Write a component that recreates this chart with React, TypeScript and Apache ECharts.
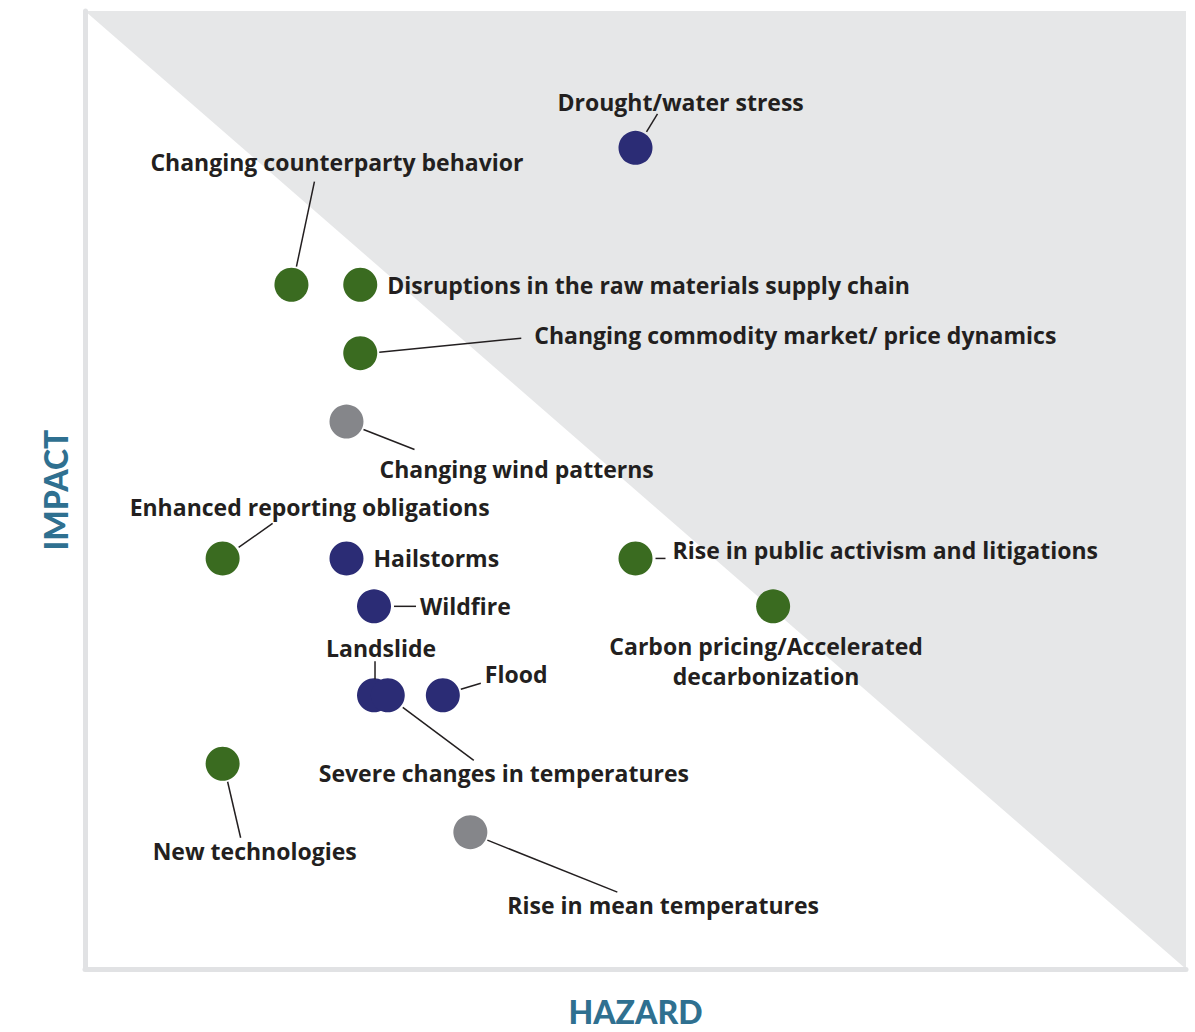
import React, { useEffect, useRef } from "react";
import * as echarts from "echarts";

// ---- data ----
const riskNames = [
  "Drought/water stress",
  "Changing counterparty behavior",
  "Disruptions in the raw materials supply chain",
  "Changing commodity market/ price dynamics",
  "Changing wind patterns",
  "Enhanced reporting obligations",
  "Hailstorms",
  "Rise in public activism and litigations",
  "Wildfire",
  "Carbon pricing/Accelerated\ndecarbonization",
  "Landslide",
  "Severe changes in temperatures",
  "Flood",
  "New technologies",
  "Rise in mean temperatures",
];
const hazard = [8, 3, 4, 4, 3.8, 2, 3.8, 8, 4.2, 10, 4.2, 4.4, 5.2, 2, 5.6];
const impact = [12, 10, 10, 9, 8, 6, 6, 6, 5.3, 5.3, 4, 4, 4, 3, 2];
const riskType = [
  "acute", "transition", "transition", "transition", "chronic", "transition", "acute",
  "transition", "acute", "transition", "acute", "acute", "acute", "transition", "chronic",
];
const hazardRange = [0, 16];
const impactRange = [0, 14];

// ---- styling / annotation layout ----
const typeColor: Record<string, string> = {
  acute: "#2b2c75",
  transition: "#3a6b20",
  chronic: "#85868a",
};
// label offset from point centre [dx, dy, align], leader line [x1, y1, x2, y2] relative to centre
const labelLayout: Array<{ dx: number; dy: number; align: string; line?: number[] }> = [
  { dx: -78, dy: -46, align: "left", line: [11, -16, 22, -34] },
  { dx: -141, dy: -123, align: "left", line: [5, -18, 23, -103] },
  { dx: 27, dy: 0, align: "left" },
  { dx: 174, dy: -18, align: "left", line: [19, -1, 161, -15] },
  { dx: 33, dy: 47, align: "left", line: [17, 8, 68, 28] },
  { dx: -93, dy: -51, align: "left", line: [16, -11, 50, -35] },
  { dx: 27, dy: 0, align: "left" },
  { dx: 37, dy: -8, align: "left", line: [20, 0, 30, 0] },
  { dx: 46, dy: 0, align: "left", line: [20, 0, 42, 0] },
  { dx: -7, dy: 55, align: "center" },
  { dx: -48, dy: -47, align: "left", line: [1, -34, 1, -16] },
  { dx: -69, dy: 78, align: "left", line: [15, 12, 86, 65] },
  { dx: 42, dy: -21, align: "left", line: [18, -6, 38, -12] },
  { dx: -70, dy: 87, align: "left", line: [5, 18, 18, 74] },
  { dx: 37, dy: 73, align: "left", line: [17, 8, 147, 60] },
];

const FONT = "Open Sans";
const TITLE_FONT = "Lato";
const TEXT_COLOR = "#231f20";
const TITLE_COLOR = "#2f7090";

export default function App() {
  const ref = useRef<HTMLDivElement>(null);
  useEffect(() => {
    if (!ref.current) return;
    const chart = echarts.init(ref.current, undefined, { renderer: "svg" });
    const option: any = {
      animation: false,
      grid: {
        left: 85,
        right: 9,
        top: 11,
        bottom: 59,
        show: true,
        backgroundColor: "#e6e7e8",
        borderWidth: 0,
      },
      xAxis: {
        type: "value",
        min: hazardRange[0],
        max: hazardRange[1],
        z: 3,
        name: "HAZARD",
        nameLocation: "middle",
        nameGap: 26,
        nameTextStyle: { color: TITLE_COLOR, fontFamily: TITLE_FONT, fontWeight: 900, fontSize: 32 },
        axisLine: { show: true, lineStyle: { color: "#e1e2e4", width: 5 } },
        axisTick: { show: false },
        axisLabel: { show: false },
        splitLine: { show: false },
      },
      yAxis: {
        type: "value",
        min: impactRange[0],
        max: impactRange[1],
        z: 3,
        name: "IMPACT",
        nameLocation: "middle",
        nameRotate: 90,
        nameGap: 14,
        nameTextStyle: { color: TITLE_COLOR, fontFamily: TITLE_FONT, fontWeight: 900, fontSize: 32 },
        axisLine: { show: true, lineStyle: { color: "#e1e2e4", width: 5 } },
        axisTick: { show: false },
        axisLabel: { show: false },
        splitLine: { show: false },
      },
      series: [
        {
          type: "line",
          data: [
            [hazardRange[0], impactRange[1]],
            [hazardRange[1], impactRange[0]],
          ],
          symbol: "none",
          lineStyle: { width: 0 },
          areaStyle: { color: "#ffffff", opacity: 1, origin: "start" },
          z: 1,
          silent: true,
        },
        {
          type: "scatter",
          symbolSize: 34,
          z: 5,
          data: hazard.map((h, i) => ({
            value: [h, impact[i]],
            itemStyle: { color: typeColor[riskType[i]], opacity: 1 },
          })),
        },
      ],
    };
    chart.setOption(option);

    const graphics: any[] = [];
    hazard.forEach((h, i) => {
      const p = chart.convertToPixel({ gridIndex: 0 }, [h, impact[i]]) as number[];
      const lay = labelLayout[i];
      if (lay.line) {
        graphics.push({
          type: "line",
          z: 10,
          shape: {
            x1: p[0] + lay.line[0],
            y1: p[1] + lay.line[1],
            x2: p[0] + lay.line[2],
            y2: p[1] + lay.line[3],
          },
          style: { stroke: TEXT_COLOR, lineWidth: 1.5 },
        });
      }
      graphics.push({
        type: "text",
        z: 10,
        x: p[0] + lay.dx,
        y: p[1] + lay.dy,
        style: {
          text: riskNames[i],
          fill: TEXT_COLOR,
          fontFamily: FONT,
          fontWeight: "bold",
          fontSize: 23,
          lineHeight: 30,
          textAlign: lay.align,
          textVerticalAlign: "middle",
        },
      });
    });
    chart.setOption({ graphic: graphics });
    return () => chart.dispose();
  }, []);
  return (
    <div
      ref={ref}
      style={{ position: "absolute", left: 0, top: 0, width: 1195, height: 1032, background: "#fff" }}
    />
  );
}
